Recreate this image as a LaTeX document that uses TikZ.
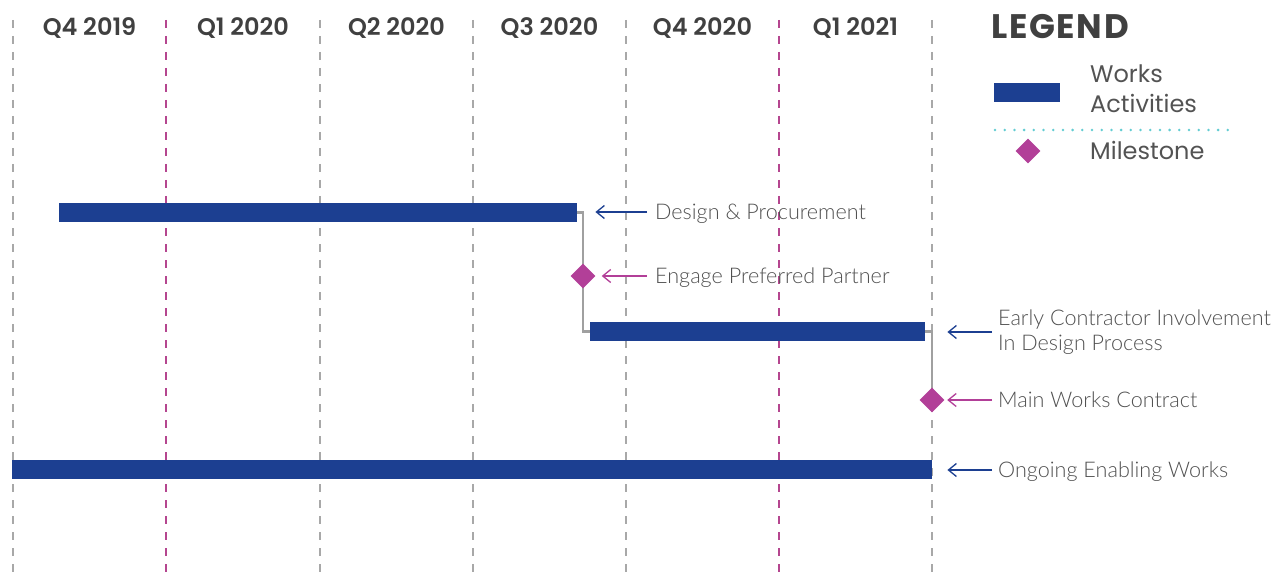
\documentclass[tikz,border=0pt]{standalone}
\usepackage{fontspec}
\setmainfont{Lato Light}
\newfontfamily\hdrfont{Poppins SemiBold}
\newfontfamily\legfont{Poppins}
\newfontfamily\legbold{Poppins Bold}[LetterSpace=5]
\usetikzlibrary{shapes.geometric,arrows.meta}
\definecolor{barblue}{HTML}{1C3F91}
\definecolor{mag}{HTML}{B23F98}
\definecolor{grid}{HTML}{A8A8A8}
\definecolor{gridmag}{HTML}{B5468F}
\definecolor{conn}{HTML}{A0A0A0}
\definecolor{txt}{HTML}{505050}
\definecolor{hdr}{HTML}{404040}
\definecolor{teal}{HTML}{62CCD2}
\tikzset{
  gridline/.style={draw=grid, line width=2.2pt, dash pattern=on 8pt off 8pt},
  gridmagline/.style={draw=gridmag, line width=2.2pt, dash pattern=on 8pt off 8pt},
  bar/.style={rectangle, fill=barblue, inner sep=0pt, minimum height=19pt, anchor=west},
  mstone/.style={diamond, fill=mag, inner sep=0pt, minimum width=25pt, minimum height=25pt},
  connline/.style={draw=conn, line width=2.2pt},
  hdrlabel/.style={font=\hdrfont\fontsize{24}{28}\selectfont, text=hdr, inner sep=0pt},
  lbl/.style={font=\fontsize{21.6}{25}\selectfont, text=txt, inner sep=0pt, anchor=base west},
  barrow/.style={draw=barblue, line width=1.3pt, -{Straight Barb[length=8pt,width=13pt]}},
  marrow/.style={draw=mag, line width=1.3pt, -{Straight Barb[length=8pt,width=13pt]}},
  legtext/.style={font=\legfont\fontsize{24}{30}\selectfont, text=hdr!90, inner sep=0pt, anchor=base west, align=left},
}
\begin{document}
\begin{tikzpicture}[x=1pt,y=-1pt]
\useasboundingbox (0,0) rectangle (1283,583);
% grid lines
\foreach \x in {13,320,473,626,932} \draw[gridline] (\x,20) -- (\x,578);
\foreach \x in {166,779} \draw[gridmagline] (\x,20) -- (\x,578);
% headers
\node[hdrlabel] (h1) at (89.5,28) {Q4 2019};
\node[hdrlabel] (h2) at (243,28) {Q1 2020};
\node[hdrlabel] (h3) at (396.5,28) {Q2 2020};
\node[hdrlabel] (h4) at (549.5,28) {Q3 2020};
\node[hdrlabel] (h5) at (702.5,28) {Q4 2020};
\node[hdrlabel] (h6) at (855.5,28) {Q1 2021};
% legend
\node[font=\legbold\fontsize{34}{36}\selectfont, text=hdr, inner sep=0pt, anchor=base west] (legt) at (991,38.5) {LEGEND};
\node[bar, minimum width=66pt] (legbar) at (994,92.5) {};
\node[legtext] (legw) at (1090,113) {Works\\Activities};
\draw[teal, line width=2.8pt, dash pattern=on 0pt off 9.7pt, line cap=round] (995,130) -- (1229,130);
\node[mstone] (legm) at (1028,151) {};
\node[legtext] (legms) at (1090,159.5) {Milestone};
% bars and milestones
\node[bar, minimum width=518pt] (b1) at (59,212.5) {};
\coordinate (m1) at (583,276);
\node[bar, minimum width=335pt] (b2) at (590,331.5) {};
\coordinate (m2) at (932,400);
\node[bar, minimum width=920pt] (b3) at (12,469.5) {};
% connectors
\draw[connline] (b1.east) -| (m1);
\draw[connline] (m1) |- (b2.west);
\draw[connline] (b2.east) -| (m2);
\node[mstone] (d1) at (m1) {};
\node[mstone] (d2) at (m2) {};
% labels
\node[lbl] (l1) at (655,219) {Design \& Procurement};
\node[lbl] (l2) at (655,283.5) {Engage Preferred Partner};
\node[lbl, align=left] (l3) at (998,350) {Early Contractor Involvement\\In Design Process};
\node[lbl] (l4) at (998,407.5) {Main Works Contract};
\node[lbl] (l5) at (998,477.5) {Ongoing Enabling Works};
% arrows
\coordinate (t1) at (647,212);
\coordinate (t2) at (647,276);
\coordinate (t3) at (992,332);
\coordinate (t4) at (992,400);
\coordinate (t5) at (992,470);
\draw[barrow] (t1) -- ([xshift=18pt]b1.east |- t1);
\draw[marrow] (t2) -- ([xshift=6pt]d1.east);
\draw[barrow] (t3) -- ([xshift=22pt]b2.east |- t3);
\draw[marrow] (t4) -- ([xshift=2.5pt]d2.east);
\draw[barrow] (t5) -- ([xshift=15pt]b3.east |- t5);
\end{tikzpicture}
\end{document}
